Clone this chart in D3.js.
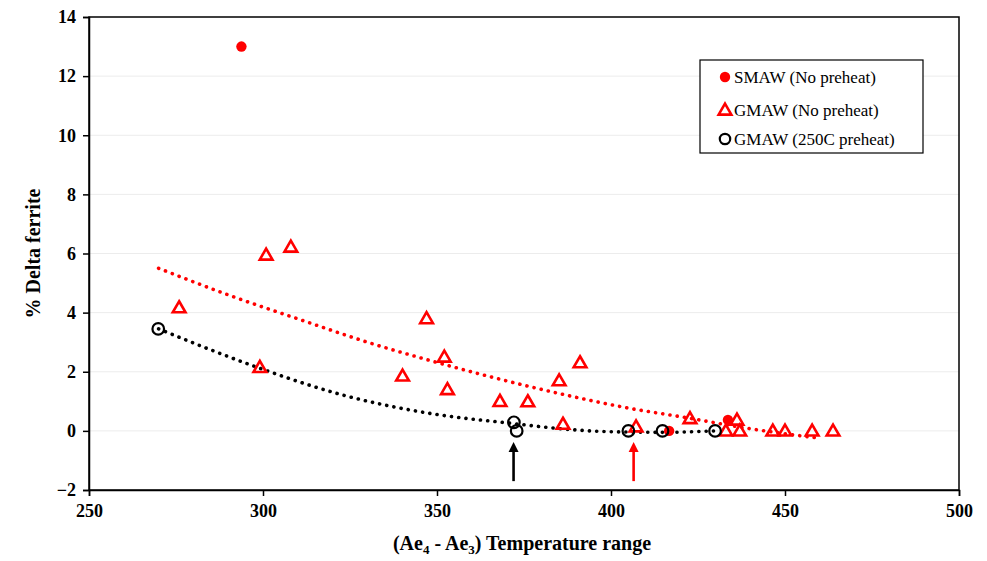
<!DOCTYPE html>
<html>
<head>
<meta charset="utf-8">
<script src="https://cdn.jsdelivr.net/npm/d3@7"></script>
<style>
  body { margin: 0; background: #fff; }
  svg { display: block; font-family: "Liberation Serif", "Times New Roman", serif; }
</style>
</head>
<body>
<div id="chart"></div>
<script>
// values
const smawX = [293.8, 416.7, 433.6];
const smawY = [13, 0, 0.37];

const gmawX = [275.9, 299.1, 300.9, 308.0, 340.1, 347.0, 352.1, 353.0, 368.1, 376.1, 385.1, 386.2, 391.1, 407.2, 422.7, 433.0, 436.2, 437.0, 446.5, 450.0, 457.8, 463.8];
const gmawY = [4.17, 2.15, 5.95, 6.22, 1.86, 3.8, 2.5, 1.4, 1.0, 0.99, 1.7, 0.23, 2.31, 0.14, 0.42, 0, 0.37, 0, 0, 0, 0, 0];

const preX = [269.9, 372.1, 372.9, 405.0, 414.8, 429.9];
const preY = [3.45, 0.29, 0, 0, 0, 0];

// trend lines
const redTrendX = [270, 290, 311, 330, 348, 367, 386, 405, 421, 439, 460];
const redTrendY = [5.5, 4.6, 3.75, 3.0, 2.38, 1.78, 1.24, 0.77, 0.46, 0.09, -0.25];
const blackTrendX = [270, 285, 300, 323, 348, 371, 390, 400, 415, 430];
const blackTrendY = [3.45, 2.74, 2.08, 1.21, 0.59, 0.26, 0.03, -0.03, -0.05, 0.0];

// arrows pointing at the x axis
const arrowX = [372, 406.5];
const arrowColor = ["#000", "#ff0000"];

const xTicks = [250, 300, 350, 400, 450, 500];
const yTicks = [-2, 0, 2, 4, 6, 8, 10, 12, 14];

const legendLabels = ["SMAW (No preheat)", "GMAW (No preheat)", "GMAW (250C preheat)"];

const width = 987, height = 561;
const margin = { left: 89, right: 28, top: 17, bottom: 71 };

let svg = d3.select("#chart").append("svg")
  .attr("width", width)
  .attr("height", height);

svg.append("rect").attr("width", width).attr("height", height).attr("fill", "#fff");

let x = d3.scaleLinear().domain([250, 500]).range([margin.left, width - margin.right]);
let y = d3.scaleLinear().domain([-2, 14]).range([height - margin.bottom, margin.top]);

// gridlines
svg.append("g")
  .selectAll("line")
  .data(yTicks.filter(d => d > -2 && d < 14))
  .enter().append("line")
  .attr("x1", x(250)).attr("x2", x(500))
  .attr("y1", d => y(d)).attr("y2", d => y(d))
  .attr("stroke", "#ececec")
  .attr("stroke-width", 1);

// plot box
svg.append("rect")
  .attr("x", x(250)).attr("y", y(14))
  .attr("width", x(500) - x(250)).attr("height", y(-2) - y(14))
  .attr("fill", "none")
  .attr("stroke", "#000")
  .attr("stroke-width", 1.5);

let xAxis = svg.append("g")
  .attr("transform", `translate(0,${y(-2)})`)
  .call(d3.axisBottom(x).tickValues(xTicks).tickSize(6).tickPadding(8));
let yAxis = svg.append("g")
  .attr("transform", `translate(${x(250)},0)`)
  .call(d3.axisLeft(y).tickValues(yTicks).tickSize(6).tickPadding(7));

[xAxis, yAxis].forEach(a => {
  a.select(".domain").attr("stroke", "#000").attr("stroke-width", 1.5);
  a.selectAll(".tick line").attr("stroke", "#000").attr("stroke-width", 1.5);
  a.selectAll(".tick text")
    .attr("fill", "#000")
    .style("font-family", "Liberation Serif")
    .style("font-weight", "bold")
    .style("font-size", "18px");
});

// axis titles
let xTitle = svg.append("text")
  .attr("x", (x(250) + x(500)) / 2 - 2)
  .attr("y", 550)
  .attr("text-anchor", "middle")
  .style("font-weight", "bold")
  .style("font-size", "20px");
xTitle.append("tspan").text("(Ae");
xTitle.append("tspan").text("4").attr("dy", 4).style("font-size", "13px");
xTitle.append("tspan").text(" - Ae").attr("dy", -4);
xTitle.append("tspan").text("3").attr("dy", 4).style("font-size", "13px");
xTitle.append("tspan").text(") Temperature range").attr("dy", -4);

svg.append("text")
  .attr("transform", `translate(40,${(y(-2) + y(14)) / 2}) rotate(-90)`)
  .attr("text-anchor", "middle")
  .style("font-weight", "bold")
  .style("font-size", "20px")
  .text("% Delta ferrite");

// dotted trend lines
let line = d3.line().curve(d3.curveMonotoneX);
function trend(xs, ys, color) {
  svg.append("path")
    .attr("d", line(xs.map((v, i) => [x(v), y(ys[i])])))
    .attr("fill", "none")
    .attr("stroke", color)
    .attr("stroke-width", 3.6)
    .attr("stroke-linecap", "round")
    .attr("stroke-dasharray", "0.1 7.2");
}
trend(redTrendX, redTrendY, "#ff0000");
trend(blackTrendX, blackTrendY, "#000");

// markers
let tri = d3.symbol().type(d3.symbolTriangle).size(70);

svg.append("g").selectAll("path")
  .data(gmawX.map((v, i) => [v, gmawY[i]]))
  .enter().append("path")
  .attr("d", tri)
  .attr("transform", d => `translate(${x(d[0])},${y(d[1]) + 1})`)
  .attr("fill", "none")
  .attr("stroke", "#ff0000")
  .attr("stroke-width", 2.6);

svg.append("g").selectAll("circle")
  .data(smawX.map((v, i) => [v, smawY[i]]))
  .enter().append("circle")
  .attr("cx", d => x(d[0]))
  .attr("cy", d => y(d[1]))
  .attr("r", 5.2)
  .attr("fill", "#ff0000");

svg.append("g").selectAll("circle")
  .data(preX.map((v, i) => [v, preY[i]]))
  .enter().append("circle")
  .attr("cx", d => x(d[0]))
  .attr("cy", d => y(d[1]))
  .attr("r", 5.8)
  .attr("fill", "none")
  .attr("stroke", "#000")
  .attr("stroke-width", 2.2);

// arrows
arrowX.forEach((v, i) => {
  let ax = x(v);
  svg.append("line")
    .attr("x1", ax).attr("x2", ax)
    .attr("y1", y(-1.7)).attr("y2", y(-0.62))
    .attr("stroke", arrowColor[i])
    .attr("stroke-width", 2.6);
  let tip = y(-0.38);
  svg.append("path")
    .attr("d", `M${ax},${tip} L${ax - 5},${tip + 10} L${ax + 5},${tip + 10} Z`)
    .attr("fill", arrowColor[i]);
});

// legend
let legend = svg.append("g").attr("transform", "translate(700,60)");
legend.append("rect")
  .attr("width", 223).attr("height", 93)
  .attr("fill", "#fff")
  .attr("stroke", "#000")
  .attr("stroke-width", 1.2);

let rowY = [17, 50, 79];
legend.append("circle").attr("cx", 25).attr("cy", rowY[0]).attr("r", 5.2).attr("fill", "#ff0000");
legend.append("path").attr("d", tri).attr("transform", `translate(25,${rowY[1] + 1})`)
  .attr("fill", "none").attr("stroke", "#ff0000").attr("stroke-width", 2.6);
legend.append("circle").attr("cx", 25).attr("cy", rowY[2]).attr("r", 5.2)
  .attr("fill", "none").attr("stroke", "#000").attr("stroke-width", 2.2);

legend.selectAll("text.lbl")
  .data(legendLabels)
  .enter().append("text")
  .attr("class", "lbl")
  .attr("x", 34)
  .attr("y", (d, i) => rowY[i] + 6)
  .style("font-size", "17px")
  .attr("fill", "#000")
  .text(d => d);
</script>
</body>
</html>
